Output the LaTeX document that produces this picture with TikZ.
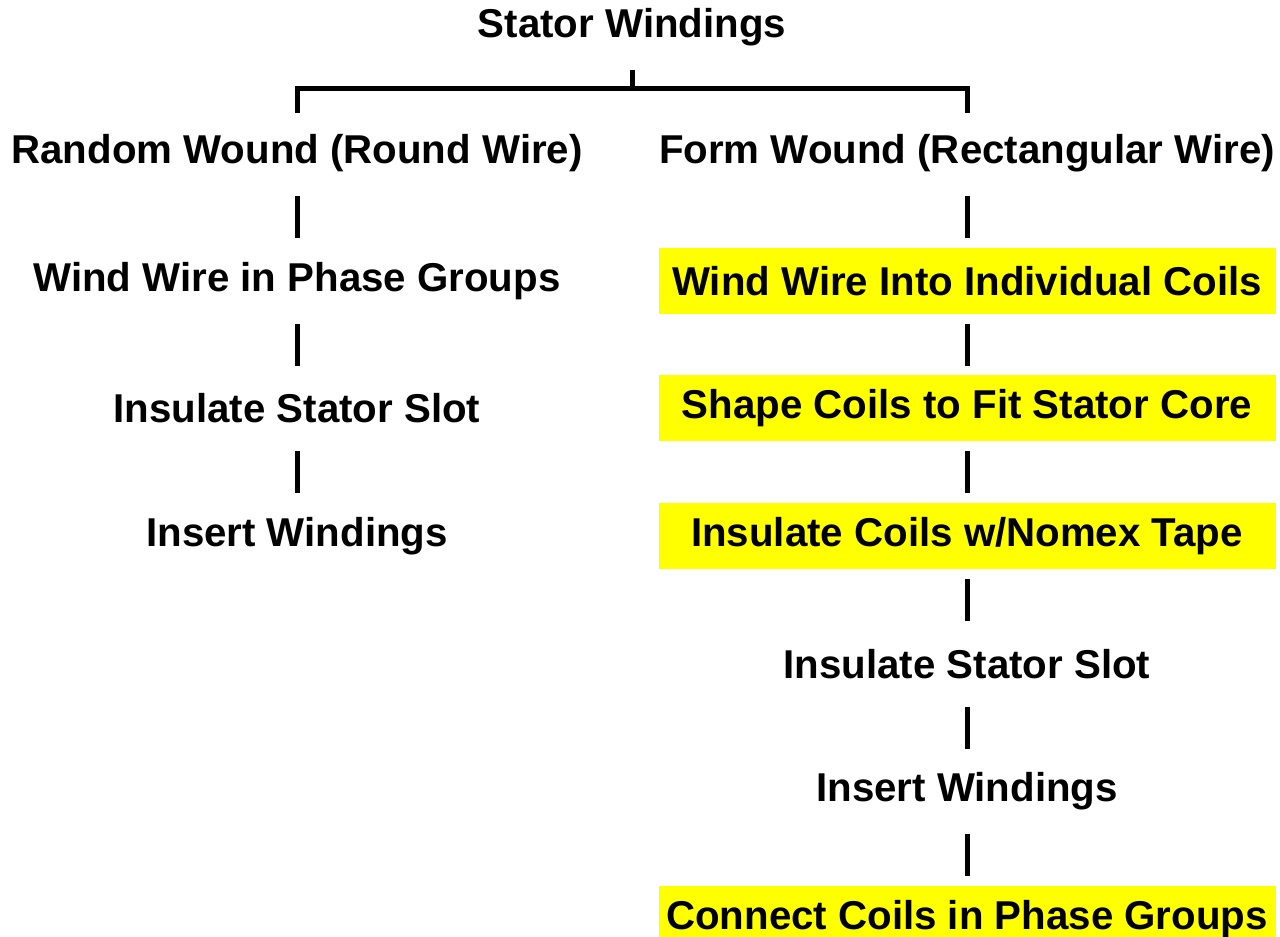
\documentclass[tikz,border=0pt]{standalone}
\usepackage{fontspec}
\setmainfont{Liberation Sans}
\usepackage{tikz}
\usetikzlibrary{positioning}
\definecolor{marker}{HTML}{FFFF00}

\begin{document}
\begin{tikzpicture}[
    stage/.style={minimum height=1.32cm, inner sep=0pt, font=\fontsize{22.9}{26}\selectfont\bfseries},
    hilite/.style={stage, fill=marker, minimum width=12.34cm},
    bar/.style={line width=0.1cm, shorten <=0.19cm, shorten >=0.19cm}]
    \clip (0,0) rectangle (25.6,-18.72);

    \node[stage] (title) at (12.64,-0.54) {Stator Windings};
    \node[stage] (rand) at (5.94,-3.06) {Random Wound (Round Wire)};
    \node[stage] (form) at (19.34,-3.06) {Form Wound (Rectangular Wire)};

    % random wound branch
    \node[stage, below=1.22cm of rand] (rphase) {Wind Wire in Phase Groups};
    \node[stage, below=1.22cm of rphase] (rslot) {Insulate Stator Slot};
    \node[stage, below=1.22cm of rslot] (rinsert) {Insert Windings};

    % form wound branch
    \node[hilite, below=1.22cm of form] (fcoil) {Wind Wire Into Individual Coils};
    \node[hilite, below=1.22cm of fcoil] (fshape) {Shape Coils to Fit Stator Core};
    \node[hilite, below=1.22cm of fshape] (ftape) {Insulate Coils w/Nomex Tape};
    \node[stage, below=1.22cm of ftape] (fslot) {Insulate Stator Slot};
    \node[stage, below=1.22cm of fslot] (finsert) {Insert Windings};
    \node[hilite, below=1.22cm of finsert] (fgroup) {Connect Coils in Phase Groups};

    \coordinate (fork) at (12.64,-1.76);
    \draw[bar, shorten >=0pt] (title) -- (fork);
    \draw[bar, line cap=rect] (rand.north) |- (fork) -| (form.north);

    \foreach \a/\b in {rand/rphase, rphase/rslot, rslot/rinsert,
                       form/fcoil, fcoil/fshape, fshape/ftape,
                       ftape/fslot, fslot/finsert, finsert/fgroup}
        \draw[bar] (\a) -- (\b);
\end{tikzpicture}
\end{document}
